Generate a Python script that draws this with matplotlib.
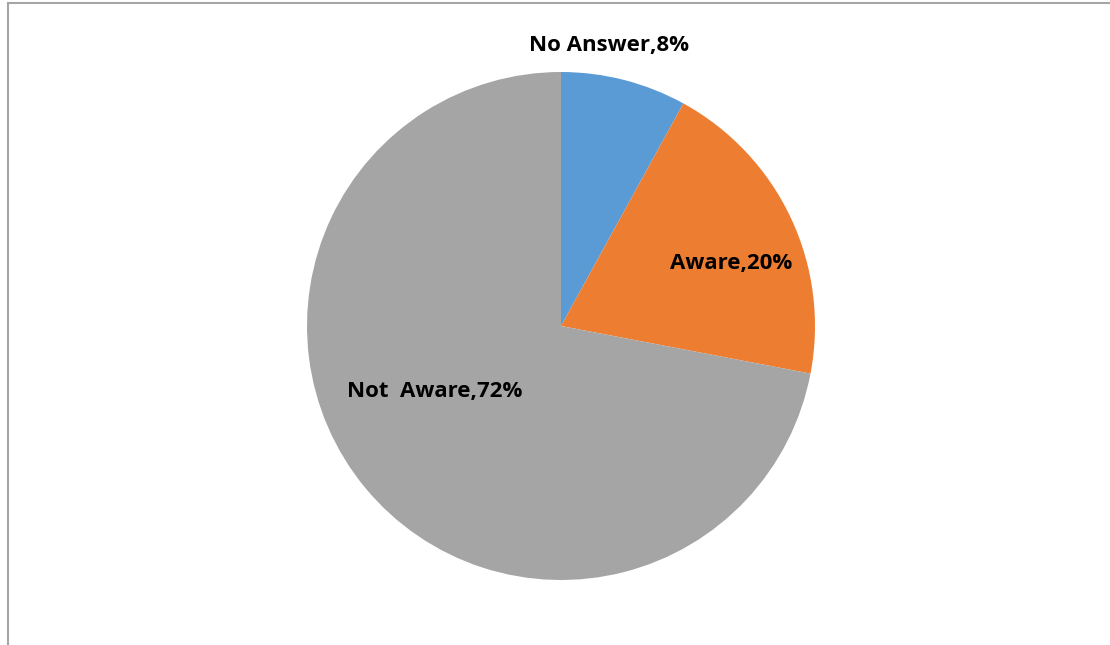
import matplotlib
matplotlib.use("Agg")
import matplotlib.pyplot as plt
from matplotlib.lines import Line2D

categories = ["No Answer", "Aware", "Not  Aware"]
values = [8, 20, 72]
colors = ["#5B9BD5", "#ED7D31", "#A5A5A5"]

W, H = 1110, 645
fig = plt.figure(figsize=(W / 100, H / 100), dpi=100)
fig.patch.set_facecolor("white")

cx, cy, r = 561, 326, 254
ax = fig.add_axes([(cx - r) / W, (H - cy - r) / H, 2 * r / W, 2 * r / H])
ax.pie(values, colors=colors, startangle=90, counterclock=False, radius=1,
       wedgeprops=dict(linewidth=0))
ax.set_xlim(-1, 1)
ax.set_ylim(-1, 1)
ax.set_aspect("equal")
ax.axis("off")

# label positions in pixels (style, not data)
label_px = [(609, 45), (731, 263), (435, 391)]
for cat, v, (px, py) in zip(categories, values, label_px):
    ax.text((px - cx) / r, (cy - py) / r, f"{cat},{v}%", ha="center", va="center",
            fontsize=16, fontweight="bold", family=["Open Sans", "DejaVu Sans"],
            color="black")

# partial chart border (top and left)
fig.add_artist(Line2D([7.5 / W, 1.0], [1 - 2.5 / H, 1 - 2.5 / H], transform=fig.transFigure,
                      color="#A6A6A6", lw=1.5))
fig.add_artist(Line2D([7.5 / W, 7.5 / W], [0, 1 - 2.5 / H], transform=fig.transFigure,
                      color="#A6A6A6", lw=1.5))

fig.savefig("out.png", dpi=100)
